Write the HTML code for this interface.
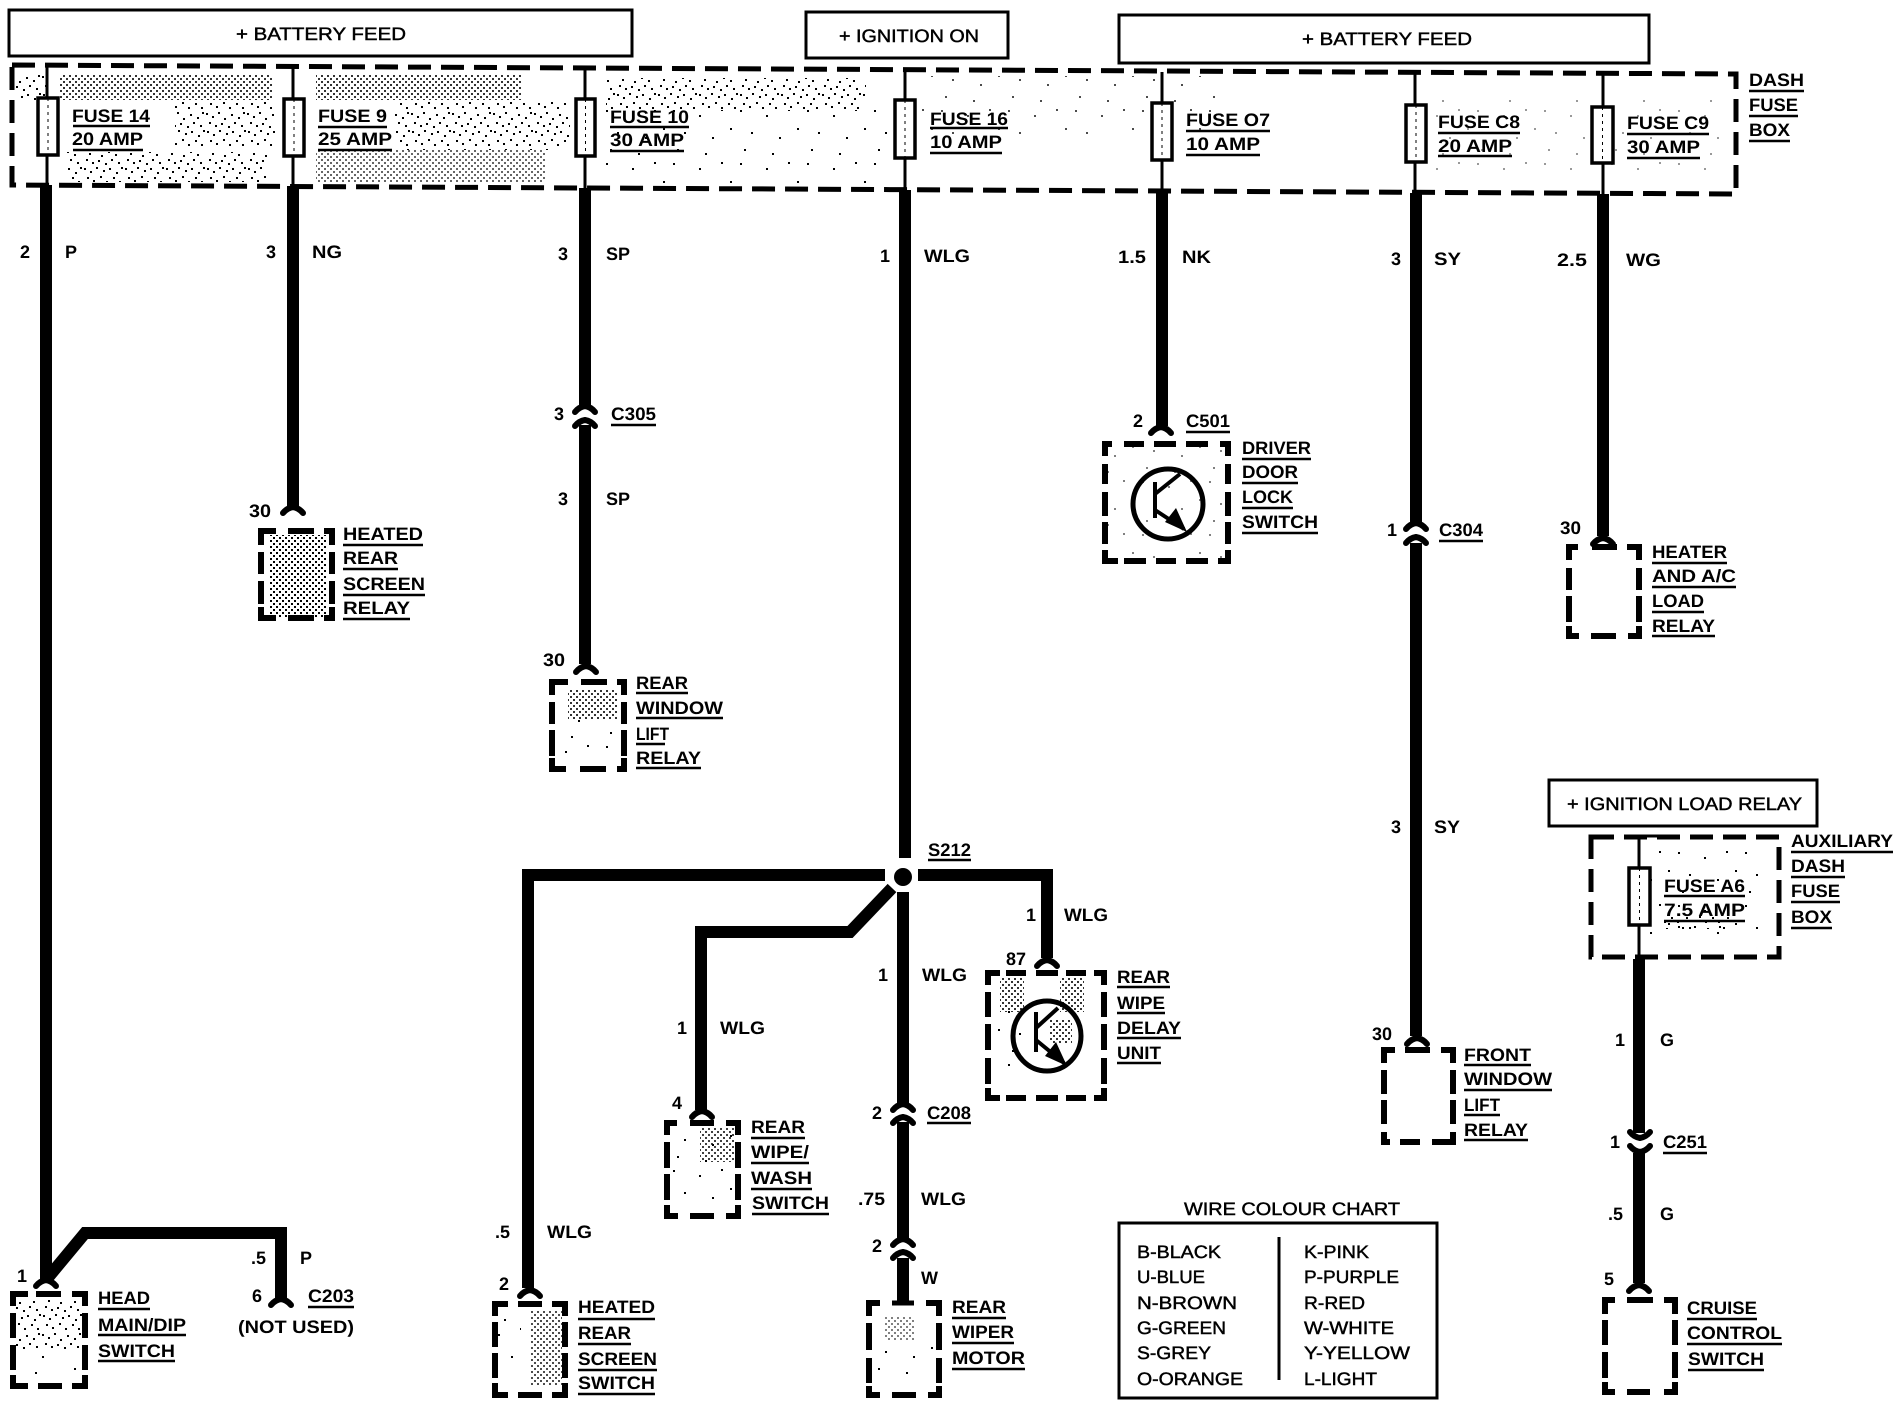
<!DOCTYPE html>
<html><head><meta charset="utf-8"><title>Wiring diagram</title>
<style>
html,body{margin:0;padding:0;background:#fff}
svg{display:block}
text{font-family:"Liberation Sans",sans-serif;font-size:18px;font-weight:bold;fill:#000;text-rendering:geometricPrecision}
text.h{font-weight:normal;stroke:#000;stroke-width:.45}
.w{fill:none;stroke:#000;stroke-width:12;stroke-linejoin:miter}
.d{fill:none;stroke:#000;stroke-width:5;stroke-dasharray:23 10}
.s{fill:none;stroke:#000;stroke-width:6;stroke-linejoin:miter}
.b{fill:none;stroke:#000;stroke-width:3}
.f{fill:#fff;stroke:#000;stroke-width:3.5}
.c{fill:none;stroke:#000;stroke-width:6;stroke-linecap:round;stroke-linejoin:round}
</style></head><body>
<svg xmlns="http://www.w3.org/2000/svg" width="1900" height="1408" viewBox="0 0 1900 1408">
<defs>
<pattern id="p1" width="6" height="6" patternUnits="userSpaceOnUse"><rect width="2" height="2" fill="#000"/><rect x="3" y="3" width="2" height="2" fill="#000"/></pattern>
<pattern id="p2" width="41" height="37" patternUnits="userSpaceOnUse"><path fill="#000" d="M1 2h2v2h-2zM7 5h2v2h-2zM13 1h2v2h-2zM19 7h2v2h-2zM26 3h2v2h-2zM33 6h2v2h-2zM38 1h2v2h-2zM4 11h2v2h-2zM10 14h2v2h-2zM16 12h2v2h-2zM23 15h2v2h-2zM29 11h2v2h-2zM36 14h2v2h-2zM2 20h2v2h-2zM8 23h2v2h-2zM14 19h2v2h-2zM21 22h2v2h-2zM27 20h2v2h-2zM34 24h2v2h-2zM39 19h2v2h-2zM5 29h2v2h-2zM11 32h2v2h-2zM18 28h2v2h-2zM24 33h2v2h-2zM31 29h2v2h-2zM37 33h2v2h-2z"/></pattern>
<pattern id="p3" width="67" height="53" patternUnits="userSpaceOnUse"><path fill="#000" d="M3 4h2v2h-2zM29 9h2v2h-2zM51 3h2v2h-2zM14 26h2v2h-2zM42 31h2v2h-2zM60 22h2v2h-2zM7 43h2v2h-2zM35 47h2v2h-2z"/></pattern>
<path id="up" class="c" d="M-10 8Q-6 3 0 2Q6 3 10 8"/>
<path id="dn" class="c" d="M-10 -8Q-6 -3 0 -2Q6 -3 10 -8"/>
</defs>

<!-- shading -->
<rect x="16" y="72" width="30" height="30" fill="url(#p2)"/>
<rect x="60" y="74" width="212" height="26" fill="url(#p1)" opacity=".8"/>
<rect x="175" y="100" width="100" height="46" fill="url(#p2)"/>
<rect x="67" y="152" width="200" height="30" fill="url(#p2)"/>
<rect x="316" y="74" width="205" height="26" fill="url(#p1)" opacity=".8"/>
<rect x="395" y="100" width="175" height="50" fill="url(#p2)"/>
<rect x="316" y="150" width="230" height="32" fill="url(#p1)" opacity=".6"/>
<rect x="606" y="78" width="260" height="32" fill="url(#p2)"/>
<rect x="606" y="110" width="290" height="74" fill="url(#p3)"/>
<rect x="920" y="76" width="300" height="60" fill="url(#p3)" opacity=".7"/>
<rect x="1430" y="100" width="290" height="70" fill="url(#p3)" opacity=".4"/>
<rect x="270" y="535" width="56" height="82" fill="url(#p1)"/>
<rect x="568" y="690" width="50" height="30" fill="url(#p1)" opacity=".8"/>
<rect x="560" y="720" width="60" height="44" fill="url(#p3)"/>
<rect x="15" y="1300" width="68" height="50" fill="url(#p2)"/>
<rect x="20" y="1350" width="60" height="30" fill="url(#p3)"/>
<rect x="497" y="1307" width="24" height="60" fill="url(#p3)"/>
<rect x="530" y="1310" width="32" height="75" fill="url(#p1)" opacity=".7"/>
<rect x="700" y="1128" width="34" height="34" fill="url(#p1)" opacity=".75"/>
<rect x="670" y="1126" width="66" height="80" fill="url(#p3)"/>
<rect x="885" y="1316" width="30" height="24" fill="url(#p1)" opacity=".5"/>
<rect x="870" y="1340" width="66" height="40" fill="url(#p3)"/>
<rect x="1000" y="978" width="24" height="34" fill="url(#p1)" opacity=".8"/>
<rect x="1060" y="978" width="24" height="34" fill="url(#p1)" opacity=".8"/>
<rect x="1050" y="1020" width="22" height="24" fill="url(#p1)" opacity=".8"/>
<rect x="992" y="1010" width="30" height="60" fill="url(#p3)"/>
<rect x="1640" y="845" width="120" height="90" fill="url(#p3)"/>
<rect x="1660" y="915" width="70" height="14" fill="url(#p2)"/>
<rect x="1108" y="446" width="118" height="112" fill="url(#p3)" opacity=".5"/>

<!-- header boxes -->
<rect x="9" y="10" width="623" height="46" class="b" fill="#fff"/>
<rect x="806" y="12" width="202" height="46" class="b" fill="#fff"/>
<rect x="1119" y="15" width="530" height="48" class="b" fill="#fff"/>
<rect x="1549" y="780" width="268" height="46" class="b" fill="#fff"/>
<rect x="1119" y="1223" width="318" height="175" class="b" fill="none"/>
<path d="M1279 1237V1380" class="b"/>

<!-- dashed boxes -->
<path class="d" d="M12 65L1736 74V194L12 185Z"/>
<!-- heated rear screen relay -->
<path class="s" d="M261 545V531H276M288 531H314M324 531H332V545M261 552V574M261 581V604M332 552V574M332 581V604M261 607V618H276M288 618H314M324 618H332V607"/>
<!-- rear window lift relay -->
<path class="s" d="M552 695V682H568M581 682H607M617 682H624V695M552 702V724M552 730V756M624 702V724M624 730V756M552 758V769H566M580 769H606M617 769H624V758"/>
<!-- head main/dip -->
<path class="s" d="M13 1306V1294H28M36 1294H61M72 1294H85V1306M13 1313V1338M13 1345V1370M85 1313V1338M85 1345V1370M13 1375V1386H28M38 1386H62M72 1386H85V1375"/>
<!-- heated rear screen switch -->
<path class="s" d="M495 1316V1304H508M518 1304H542M552 1304H565V1316M495 1322V1347M495 1353V1378M565 1322V1347M565 1353V1378M495 1383V1395H508M518 1395H542M552 1395H565V1383"/>
<!-- rear wipe wash -->
<path class="s" d="M667 1135V1123H677M690 1123H714M726 1123H738V1135M667 1142V1168M667 1174V1200M738 1142V1168M738 1174V1200M667 1205V1216H678M690 1216H714M726 1216H738V1205"/>
<!-- rear wiper motor -->
<path class="s" d="M869 1316V1303H880M926 1303H939V1316M869 1323V1350M869 1358V1383M939 1323V1350M939 1358V1383M869 1386V1395H880M892 1395H916M928 1395H939V1386"/>
<!-- rear wipe delay -->
<path class="s" d="M988 985V973H1000M1006 973H1026M1036 973H1058M1066 973H1086M1094 973H1104V985M988 992V1017M988 1024V1050M988 1058V1084M1104 992V1017M1104 1024V1050M1104 1058V1084M988 1088V1098H1000M1006 1098H1026M1036 1098H1058M1066 1098H1086M1094 1098H1104V1088"/>
<!-- driver door lock -->
<path class="s" d="M1105 456V444H1112M1124 444H1144M1154 444H1176M1186 444H1208M1220 444H1228V456M1105 464V484M1105 492V516M1105 522V544M1228 464V484M1228 492V516M1228 522V544M1105 550V561H1118M1124 561H1146M1156 561H1176M1186 561H1208M1218 561H1228V550"/>
<!-- heater a/c relay -->
<path class="s" d="M1569 560V547H1578M1592 547H1617M1627 547H1639V560M1569 568V590M1569 596V622M1639 568V590M1639 596V622M1569 626V636H1579M1591 636H1616M1628 636H1639V626"/>
<!-- front window lift relay -->
<path class="s" d="M1384 1063V1050H1395M1405 1050H1430M1441 1050H1453V1063M1384 1070V1094M1384 1100V1124M1453 1070V1094M1453 1100V1124M1384 1132V1142H1390M1400 1142H1420M1432 1142H1453V1132"/>
<!-- auxiliary fuse box -->
<rect class="d" x="1591" y="837" width="188" height="120"/>
<!-- cruise control -->
<path class="s" d="M1605 1314V1300H1615M1627 1300H1653M1664 1300H1675V1314M1605 1320V1345M1605 1352V1378M1675 1320V1345M1675 1352V1378M1605 1382V1392H1615M1627 1392H1650M1664 1392H1675V1382"/>

<!-- thin feed wires and fuses -->
<path d="M47 65V186M293 67V187M585 69V188M905 71V190M1162 72V192M1415 73V193M1603 74V194M1639 836V959M1639 836H1670" fill="none" stroke="#000" stroke-width="3"/>
<rect class="f" x="38" y="98" width="20" height="57"/>
<rect class="f" x="284" y="99" width="20" height="57"/>
<rect class="f" x="576" y="99" width="19" height="57"/>
<rect class="f" x="895" y="100" width="20" height="58"/>
<rect class="f" x="1152" y="103" width="20" height="57"/>
<rect class="f" x="1406" y="105" width="20" height="57"/>
<rect class="f" x="1592" y="107" width="21" height="56"/>
<rect class="f" x="1629" y="868" width="21" height="57"/>
<path d="M48 98V155M294 99V156M585.500 99V156M905 100V158M1162 103V160M1416 105V162M1602.500 107V163M1639.500 868V925" stroke="#000" stroke-width="1" stroke-dasharray="3 4" fill="none"/>

<!-- wires -->
<path class="w" d="M46 185V1280"/>
<path class="w" d="M46 1280L85 1233H281V1298"/>
<path class="w" d="M293 186V506"/>
<path class="w" d="M585 188V405"/>
<path class="w" d="M585 425V664"/>
<path class="w" d="M905 190V858"/>
<path class="w" d="M885 875H528V1288"/>
<path class="w" d="M918 875H1047V958"/>
<path class="w" d="M892 888L850 932H701V1110"/>
<path class="w" d="M903 892V1103"/>
<path class="w" d="M903 1122V1238"/>
<path class="w" d="M903 1258V1303"/>
<path d="M892 1303H914" stroke="#000" stroke-width="5"/>
<path class="w" d="M1162 192V426"/>
<path class="w" d="M1416 193V522"/>
<path class="w" d="M1416 543V1036"/>
<path class="w" d="M1603 194V536"/>
<path class="w" d="M1639 959V1133"/>
<path class="w" d="M1639 1153V1283"/>
<circle cx="903" cy="877" r="9" fill="#000"/>

<!-- connectors -->
<use href="#up" x="46" y="1278"/>
<use href="#up" x="281" y="1297"/>
<use href="#up" x="293" y="505"/>
<use href="#up" x="585" y="404"/><use href="#up" x="585" y="418"/>
<use href="#up" x="586" y="664"/>
<use href="#up" x="530" y="1288"/>
<use href="#up" x="702" y="1109"/>
<use href="#up" x="903" y="1102"/><use href="#up" x="903" y="1115"/>
<use href="#up" x="903" y="1237"/><use href="#up" x="903" y="1250"/>
<use href="#up" x="1047" y="958"/>
<use href="#up" x="1161" y="425"/>
<use href="#up" x="1416" y="521"/><use href="#up" x="1416" y="535"/>
<use href="#up" x="1603" y="536"/>
<use href="#up" x="1417" y="1036"/>
<use href="#dn" x="1640" y="1140"/><use href="#dn" x="1640" y="1154"/>
<use href="#up" x="1639" y="1283"/>

<!-- transistors -->
<ellipse cx="1047" cy="1036" rx="34" ry="35" fill="none" stroke="#000" stroke-width="5"/>
<path d="M1036 1012V1052M1036 1028L1058 1008M1036 1040L1064 1063" fill="none" stroke="#000" stroke-width="4"/>
<path d="M1067 1066L1045 1056L1056 1042Z" fill="#000"/>
<ellipse cx="1168" cy="504" rx="35" ry="35" fill="none" stroke="#000" stroke-width="5"/>
<path d="M1155 482V518M1155 494L1180 474M1155 510L1184 529" fill="none" stroke="#000" stroke-width="4"/>
<path d="M1187 532L1165 522L1176 508Z" fill="#000"/>

<!-- underlines -->
<path fill="none" stroke="#000" stroke-width="2.5" d="M73 126H150M73 150H143M318 127H387M318 150H392M610 127H689M610 151H684M930 128H1008M930 153H1002M1186 131H1270M1186 155H1260M1438 133H1520M1438 156H1512M1627 134H1709M1627 158H1700M1749 91H1804M1749 116H1798M1749 141H1790
M98 1309H150M98 1335H186M98 1361H175M308 1307H354M343 545H423M343 569H398M343 595H425M343 619H410M611 425H656M636 693H688M636 718H723M636 744H665M636 768H701
M928 860H971M1117 987H1170M1117 1013H1165M1117 1038H1181M1117 1063H1161M751 1138H805M751 1163H809M751 1189H812M752 1214H829M927 1123H971M578 1319H655M578 1344H631M578 1370H657M578 1394H655M952 1318H1006M952 1343H1014M952 1369H1025
M1186 432H1230M1242 459H1311M1242 483H1298M1242 508H1293M1242 533H1318M1439 541H1483M1652 563H1727M1652 587H1736M1652 612H1704M1652 636H1715
M1464 1065H1531M1464 1090H1552M1464 1115H1500M1464 1140H1528M1664 896H1745M1664 921H1745M1791 852H1893M1791 877H1845M1791 902H1840M1791 928H1832M1663 1153H1707M1687 1319H1757M1687 1344H1782M1688 1370H1764"/>

<!-- header text -->
<text class="h" x="236" y="40" textLength="170" lengthAdjust="spacingAndGlyphs">+ BATTERY FEED</text>
<text class="h" x="839" y="42" textLength="140" lengthAdjust="spacingAndGlyphs">+ IGNITION ON</text>
<text class="h" x="1302" y="45" textLength="170" lengthAdjust="spacingAndGlyphs">+ BATTERY FEED</text>
<text class="h" x="1567" y="810" textLength="235" lengthAdjust="spacingAndGlyphs">+ IGNITION LOAD RELAY</text>

<!-- fuse labels -->
<text x="72" y="122" textLength="78" lengthAdjust="spacingAndGlyphs">FUSE 14</text>
<text x="72" y="145" textLength="71" lengthAdjust="spacingAndGlyphs">20 AMP</text>
<text x="318" y="122" textLength="69" lengthAdjust="spacingAndGlyphs">FUSE 9</text>
<text x="318" y="145" textLength="74" lengthAdjust="spacingAndGlyphs">25 AMP</text>
<text x="610" y="123" textLength="79" lengthAdjust="spacingAndGlyphs">FUSE 10</text>
<text x="610" y="146" textLength="74" lengthAdjust="spacingAndGlyphs">30 AMP</text>
<text x="930" y="125" textLength="78" lengthAdjust="spacingAndGlyphs">FUSE 16</text>
<text x="930" y="148" textLength="72" lengthAdjust="spacingAndGlyphs">10 AMP</text>
<text x="1186" y="126" textLength="84" lengthAdjust="spacingAndGlyphs">FUSE O7</text>
<text x="1186" y="150" textLength="74" lengthAdjust="spacingAndGlyphs">10 AMP</text>
<text x="1438" y="128" textLength="82" lengthAdjust="spacingAndGlyphs">FUSE C8</text>
<text x="1438" y="152" textLength="74" lengthAdjust="spacingAndGlyphs">20 AMP</text>
<text x="1627" y="129" textLength="82" lengthAdjust="spacingAndGlyphs">FUSE C9</text>
<text x="1627" y="153" textLength="73" lengthAdjust="spacingAndGlyphs">30 AMP</text>
<text x="1749" y="86" textLength="55" lengthAdjust="spacingAndGlyphs">DASH</text>
<text x="1749" y="111" textLength="49" lengthAdjust="spacingAndGlyphs">FUSE</text>
<text x="1749" y="136" textLength="41" lengthAdjust="spacingAndGlyphs">BOX</text>
<text x="1664" y="892" textLength="81" lengthAdjust="spacingAndGlyphs">FUSE A6</text>
<text x="1664" y="916" textLength="81" lengthAdjust="spacingAndGlyphs">7.5 AMP</text>
<text x="1791" y="847" textLength="102" lengthAdjust="spacingAndGlyphs">AUXILIARY</text>
<text x="1791" y="872" textLength="54" lengthAdjust="spacingAndGlyphs">DASH</text>
<text x="1791" y="897" textLength="49" lengthAdjust="spacingAndGlyphs">FUSE</text>
<text x="1791" y="923" textLength="41" lengthAdjust="spacingAndGlyphs">BOX</text>

<!-- wire labels -->
<text x="20" y="258">2</text><text x="65" y="258">P</text>
<text x="266" y="258">3</text><text x="312" y="258" textLength="30" lengthAdjust="spacingAndGlyphs">NG</text>
<text x="558" y="260">3</text><text x="606" y="260">SP</text>
<text x="880" y="262">1</text><text x="924" y="262" textLength="46" lengthAdjust="spacingAndGlyphs">WLG</text>
<text x="1118" y="263" textLength="28" lengthAdjust="spacingAndGlyphs">1.5</text><text x="1182" y="263" textLength="29" lengthAdjust="spacingAndGlyphs">NK</text>
<text x="1391" y="265">3</text><text x="1434" y="265" textLength="27" lengthAdjust="spacingAndGlyphs">SY</text>
<text x="1557" y="266" textLength="30" lengthAdjust="spacingAndGlyphs">2.5</text><text x="1626" y="266" textLength="35" lengthAdjust="spacingAndGlyphs">WG</text>
<text x="17" y="1282">1</text>
<text x="251" y="1264">.5</text><text x="300" y="1264">P</text>
<text x="252" y="1302">6</text>
<text x="308" y="1302" textLength="46" lengthAdjust="spacingAndGlyphs">C203</text>
<text x="238" y="1333" textLength="116" lengthAdjust="spacingAndGlyphs">(NOT USED)</text>
<text x="98" y="1304" textLength="52" lengthAdjust="spacingAndGlyphs">HEAD</text>
<text x="98" y="1331" textLength="88" lengthAdjust="spacingAndGlyphs">MAIN/DIP</text>
<text x="98" y="1357" textLength="77" lengthAdjust="spacingAndGlyphs">SWITCH</text>
<text x="249" y="517" textLength="22" lengthAdjust="spacingAndGlyphs">30</text>
<text x="343" y="540" textLength="80" lengthAdjust="spacingAndGlyphs">HEATED</text>
<text x="343" y="564" textLength="55" lengthAdjust="spacingAndGlyphs">REAR</text>
<text x="343" y="590" textLength="82" lengthAdjust="spacingAndGlyphs">SCREEN</text>
<text x="343" y="614" textLength="67" lengthAdjust="spacingAndGlyphs">RELAY</text>
<text x="554" y="420">3</text>
<text x="611" y="420" textLength="45" lengthAdjust="spacingAndGlyphs">C305</text>
<text x="558" y="505">3</text><text x="606" y="505">SP</text>
<text x="543" y="666" textLength="22" lengthAdjust="spacingAndGlyphs">30</text>
<text x="636" y="689" textLength="52" lengthAdjust="spacingAndGlyphs">REAR</text>
<text x="636" y="714" textLength="87" lengthAdjust="spacingAndGlyphs">WINDOW</text>
<text x="636" y="740" textLength="33" lengthAdjust="spacingAndGlyphs">LIFT</text>
<text x="636" y="764" textLength="65" lengthAdjust="spacingAndGlyphs">RELAY</text>
<text x="928" y="856" textLength="43" lengthAdjust="spacingAndGlyphs">S212</text>
<text x="1026" y="921">1</text><text x="1064" y="921" textLength="44" lengthAdjust="spacingAndGlyphs">WLG</text>
<text x="1006" y="965" textLength="20" lengthAdjust="spacingAndGlyphs">87</text>
<text x="1117" y="983" textLength="53" lengthAdjust="spacingAndGlyphs">REAR</text>
<text x="1117" y="1009" textLength="48" lengthAdjust="spacingAndGlyphs">WIPE</text>
<text x="1117" y="1034" textLength="64" lengthAdjust="spacingAndGlyphs">DELAY</text>
<text x="1117" y="1059" textLength="44" lengthAdjust="spacingAndGlyphs">UNIT</text>
<text x="878" y="981">1</text><text x="922" y="981" textLength="45" lengthAdjust="spacingAndGlyphs">WLG</text>
<text x="677" y="1034">1</text><text x="720" y="1034" textLength="45" lengthAdjust="spacingAndGlyphs">WLG</text>
<text x="672" y="1109">4</text>
<text x="751" y="1133" textLength="54" lengthAdjust="spacingAndGlyphs">REAR</text>
<text x="751" y="1158" textLength="58" lengthAdjust="spacingAndGlyphs">WIPE/</text>
<text x="751" y="1184" textLength="61" lengthAdjust="spacingAndGlyphs">WASH</text>
<text x="752" y="1209" textLength="77" lengthAdjust="spacingAndGlyphs">SWITCH</text>
<text x="872" y="1119">2</text>
<text x="927" y="1119" textLength="44" lengthAdjust="spacingAndGlyphs">C208</text>
<text x="858" y="1205" textLength="27" lengthAdjust="spacingAndGlyphs">.75</text>
<text x="921" y="1205" textLength="45" lengthAdjust="spacingAndGlyphs">WLG</text>
<text x="872" y="1252">2</text>
<text x="921" y="1284">W</text>
<text x="495" y="1238">.5</text><text x="547" y="1238" textLength="45" lengthAdjust="spacingAndGlyphs">WLG</text>
<text x="499" y="1290">2</text>
<text x="578" y="1313" textLength="77" lengthAdjust="spacingAndGlyphs">HEATED</text>
<text x="578" y="1339" textLength="53" lengthAdjust="spacingAndGlyphs">REAR</text>
<text x="578" y="1365" textLength="79" lengthAdjust="spacingAndGlyphs">SCREEN</text>
<text x="578" y="1389" textLength="77" lengthAdjust="spacingAndGlyphs">SWITCH</text>
<text x="952" y="1313" textLength="54" lengthAdjust="spacingAndGlyphs">REAR</text>
<text x="952" y="1338" textLength="62" lengthAdjust="spacingAndGlyphs">WIPER</text>
<text x="952" y="1364" textLength="73" lengthAdjust="spacingAndGlyphs">MOTOR</text>
<text x="1133" y="427">2</text>
<text x="1186" y="427" textLength="44" lengthAdjust="spacingAndGlyphs">C501</text>
<text x="1242" y="454" textLength="69" lengthAdjust="spacingAndGlyphs">DRIVER</text>
<text x="1242" y="478" textLength="56" lengthAdjust="spacingAndGlyphs">DOOR</text>
<text x="1242" y="503" textLength="51" lengthAdjust="spacingAndGlyphs">LOCK</text>
<text x="1242" y="528" textLength="76" lengthAdjust="spacingAndGlyphs">SWITCH</text>
<text x="1387" y="536">1</text>
<text x="1439" y="536" textLength="44" lengthAdjust="spacingAndGlyphs">C304</text>
<text x="1560" y="534" textLength="21" lengthAdjust="spacingAndGlyphs">30</text>
<text x="1652" y="558" textLength="75" lengthAdjust="spacingAndGlyphs">HEATER</text>
<text x="1652" y="582" textLength="84" lengthAdjust="spacingAndGlyphs">AND A/C</text>
<text x="1652" y="607" textLength="52" lengthAdjust="spacingAndGlyphs">LOAD</text>
<text x="1652" y="632" textLength="63" lengthAdjust="spacingAndGlyphs">RELAY</text>
<text x="1391" y="833">3</text><text x="1434" y="833" textLength="26" lengthAdjust="spacingAndGlyphs">SY</text>
<text x="1372" y="1040" textLength="20" lengthAdjust="spacingAndGlyphs">30</text>
<text x="1464" y="1061" textLength="67" lengthAdjust="spacingAndGlyphs">FRONT</text>
<text x="1464" y="1085" textLength="88" lengthAdjust="spacingAndGlyphs">WINDOW</text>
<text x="1464" y="1111" textLength="36" lengthAdjust="spacingAndGlyphs">LIFT</text>
<text x="1464" y="1136" textLength="64" lengthAdjust="spacingAndGlyphs">RELAY</text>
<text x="1615" y="1046">1</text><text x="1660" y="1046">G</text>
<text x="1610" y="1148">1</text>
<text x="1663" y="1148" textLength="44" lengthAdjust="spacingAndGlyphs">C251</text>
<text x="1608" y="1220">.5</text><text x="1660" y="1220">G</text>
<text x="1604" y="1285">5</text>
<text x="1687" y="1314" textLength="70" lengthAdjust="spacingAndGlyphs">CRUISE</text>
<text x="1687" y="1339" textLength="95" lengthAdjust="spacingAndGlyphs">CONTROL</text>
<text x="1688" y="1365" textLength="76" lengthAdjust="spacingAndGlyphs">SWITCH</text>

<!-- colour chart -->
<text class="h" x="1184" y="1215" textLength="216" lengthAdjust="spacingAndGlyphs">WIRE COLOUR CHART</text>
<text class="h" x="1137" y="1258" textLength="84" lengthAdjust="spacingAndGlyphs">B-BLACK</text>
<text class="h" x="1137" y="1283" textLength="68" lengthAdjust="spacingAndGlyphs">U-BLUE</text>
<text class="h" x="1137" y="1309" textLength="100" lengthAdjust="spacingAndGlyphs">N-BROWN</text>
<text class="h" x="1137" y="1334" textLength="89" lengthAdjust="spacingAndGlyphs">G-GREEN</text>
<text class="h" x="1137" y="1359" textLength="74" lengthAdjust="spacingAndGlyphs">S-GREY</text>
<text class="h" x="1137" y="1385" textLength="106" lengthAdjust="spacingAndGlyphs">O-ORANGE</text>
<text class="h" x="1304" y="1258" textLength="65" lengthAdjust="spacingAndGlyphs">K-PINK</text>
<text class="h" x="1304" y="1283" textLength="95" lengthAdjust="spacingAndGlyphs">P-PURPLE</text>
<text class="h" x="1304" y="1309" textLength="61" lengthAdjust="spacingAndGlyphs">R-RED</text>
<text class="h" x="1304" y="1334" textLength="90" lengthAdjust="spacingAndGlyphs">W-WHITE</text>
<text class="h" x="1304" y="1359" textLength="106" lengthAdjust="spacingAndGlyphs">Y-YELLOW</text>
<text class="h" x="1304" y="1385" textLength="73" lengthAdjust="spacingAndGlyphs">L-LIGHT</text>
</svg>
</body></html>
